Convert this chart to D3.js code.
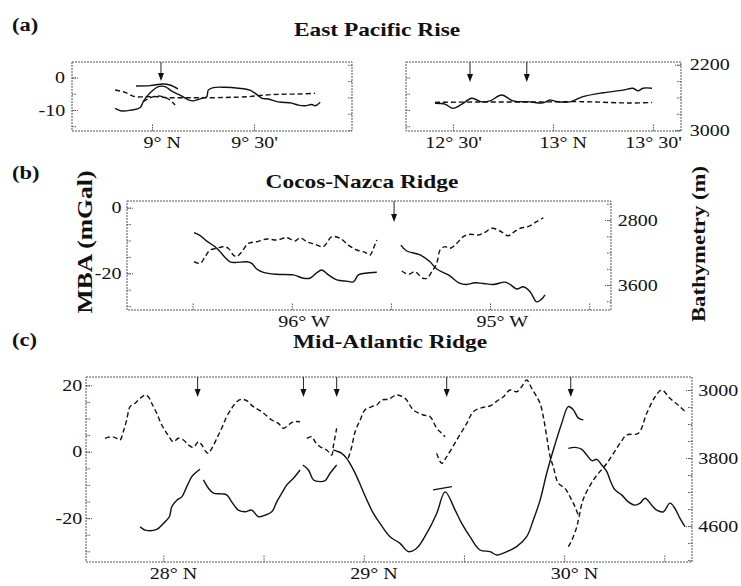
<!DOCTYPE html>
<html>
<head>
<meta charset="utf-8"/>
<title>MBA and bathymetry along ridge axes</title>
<script src="https://d3js.org/d3.v7.min.js"></script>
<style>
    body { margin: 0; background: #fff; }
    svg { display: block; }
    .frame { fill: none; stroke: #555; stroke-width: 1; stroke-dasharray: 2,1; }
    .axis line { stroke: #555; stroke-width: 1; stroke-dasharray: 1.5,1; }
    .axis text { font-family: "Liberation Serif", "Times New Roman", serif; font-size: 16px; fill: #111; }
    .mba { fill: none; stroke: #111; stroke-width: 1.4; }
    .bathy { fill: none; stroke: #111; stroke-width: 1.4; stroke-dasharray: 5,3; }
    .arrow { stroke: #222; stroke-width: 1; }
    .big { font-family: "Liberation Serif", "Times New Roman", serif; font-weight: bold; fill: #111; }
</style>
</head>
<body>
<div id="chart"></div>
<script>
// ---- data: [position (deg), MBA (mGal)] and [position (deg), depth (m)] ----
// (a) East Pacific Rise, 9-10 N
var aLeftMba = [[8.819,-9.5],[8.851,-10.3],[8.900,-10.0],[8.941,-9.3],[8.957,-7.5],[8.974,-5.9],[8.999,-4.2],[9.031,-2.8],[9.064,-2.8],[9.097,-4.2],[9.137,-5.4],[9.178,-6.9],[9.202,-7.2],[9.244,-6.4],[9.268,-5.9],[9.276,-3.9],[9.300,-3.1],[9.358,-3.0],[9.423,-3.3],[9.480,-3.9],[9.513,-5.2],[9.538,-6.4],[9.570,-6.6],[9.619,-7.5],[9.685,-7.9],[9.717,-8.5],[9.750,-8.7],[9.783,-8.3],[9.799,-8.7],[9.824,-7.6]];
var aLeftMbaShort = [[8.922,-2.6],[8.990,-2.5],[9.054,-2.0],[9.088,-2.3],[9.127,-3.5]];
var aLeftBathy = [[8.819,2509],[8.868,2537],[8.917,2591],[8.966,2591],[9.029,2591],[9.078,2603],[9.146,2603],[9.225,2603],[9.309,2603],[9.391,2598],[9.471,2591],[9.554,2570],[9.636,2561],[9.717,2558],[9.799,2549]];
var aLeftBathyShort = [[8.956,2652],[8.990,2607],[9.023,2582],[9.054,2591],[9.088,2631],[9.113,2692]];
// (a) East Pacific Rise, 12-13.5 N
var aRightMba = [[12.41,-7.9],[12.46,-8.2],[12.50,-9.5],[12.545,-8.2],[12.594,-6.4],[12.644,-7.5],[12.685,-7.2],[12.744,-5.4],[12.80,-7.2],[12.885,-7.5],[12.95,-7.8],[12.985,-6.9],[13.015,-7.4],[13.085,-7.5],[13.15,-5.9],[13.25,-4.7],[13.35,-3.9],[13.40,-3.3],[13.425,-4.1],[13.45,-3.3],[13.495,-3.3]];
var aRightBathy = [[12.41,2660],[12.635,2656],[12.885,2656],[13.15,2652],[13.285,2662],[13.385,2668],[13.495,2662]];
// (b) Cocos-Nazca Ridge (west longitude as negative)
var bMba1 = [[-96.493,-7.6],[-96.462,-8.5],[-96.429,-10.2],[-96.387,-11.9],[-96.362,-13.4],[-96.336,-15.2],[-96.311,-16.5],[-96.286,-16.7],[-96.227,-16.5],[-96.202,-17.0],[-96.177,-18.7],[-96.143,-19.7],[-96.076,-20.3],[-95.992,-20.5],[-95.941,-21.5],[-95.908,-21.5],[-95.883,-20.3],[-95.849,-19.0],[-95.815,-20.5],[-95.773,-22.0],[-95.723,-22.4],[-95.689,-22.6],[-95.664,-20.5],[-95.630,-20.0],[-95.571,-19.7]];
var bMba2 = [[-95.450,-11.4],[-95.420,-13.2],[-95.353,-14.4],[-95.303,-16.5],[-95.269,-18.7],[-95.210,-20.5],[-95.151,-23.1],[-95.118,-23.4],[-95.076,-22.9],[-95.034,-23.1],[-94.983,-23.4],[-94.924,-22.7],[-94.899,-23.4],[-94.865,-24.8],[-94.832,-24.1],[-94.798,-25.6],[-94.765,-28.7],[-94.739,-27.8],[-94.723,-26.6]];
var bBathy1 = [[-96.493,3313],[-96.462,3333],[-96.437,3251],[-96.412,3169],[-96.378,3148],[-96.345,3128],[-96.320,3148],[-96.295,3231],[-96.278,3251],[-96.252,3190],[-96.219,3087],[-96.177,3067],[-96.126,3034],[-96.076,3046],[-96.025,3018],[-95.983,3058],[-95.958,3018],[-95.924,3067],[-95.883,3099],[-95.841,3128],[-95.798,3005],[-95.756,3025],[-95.715,3108],[-95.672,3169],[-95.630,3197],[-95.605,3231],[-95.588,3148],[-95.571,3046]];
var bBathy2 = [[-95.445,3427],[-95.412,3468],[-95.378,3436],[-95.344,3510],[-95.319,3517],[-95.294,3436],[-95.269,3333],[-95.252,3169],[-95.227,3128],[-95.202,3148],[-95.168,3087],[-95.135,3005],[-95.101,2976],[-95.059,2985],[-95.025,2951],[-94.991,2902],[-94.950,2935],[-94.908,2993],[-94.882,2951],[-94.849,2902],[-94.808,2882],[-94.765,2821],[-94.731,2772]];
// (c) Mid-Atlantic Ridge
var cMba1 = [[27.884,-22.6],[27.909,-23.6],[27.967,-23.4],[28.000,-21.6],[28.030,-19.6],[28.042,-16.6],[28.067,-14.6],[28.092,-13.6],[28.117,-10.5],[28.142,-7.5],[28.158,-6.5],[28.183,-5.3]];
var cMba2 = [[28.200,-8.5],[28.225,-11.0],[28.250,-12.5],[28.291,-12.7],[28.316,-13.0],[28.341,-15.1],[28.374,-17.6],[28.408,-18.1],[28.441,-17.6],[28.474,-19.6],[28.508,-19.1],[28.541,-18.1],[28.566,-15.1],[28.591,-12.5],[28.616,-10.0],[28.649,-8.0],[28.682,-5.5]];
var cMba3 = [[28.696,-4.0],[28.724,-5.5],[28.749,-8.5],[28.782,-9.0],[28.807,-8.7],[28.832,-6.5],[28.865,-4.0]];
var cMba4 = [[28.848,0.5],[28.890,-0.5],[28.915,-2.0],[28.940,-4.5],[28.965,-7.5],[28.990,-11.0],[29.023,-15.5],[29.048,-18.6],[29.081,-21.6],[29.131,-25.6],[29.181,-27.6],[29.223,-30.1],[29.264,-29.1],[29.314,-24.6],[29.364,-18.6],[29.406,-12.1],[29.456,-17.6],[29.489,-21.6],[29.530,-25.6],[29.580,-29.6],[29.630,-30.1],[29.664,-31.1],[29.714,-30.1],[29.763,-28.6],[29.813,-25.6],[29.846,-20.6],[29.880,-14.6],[29.913,-6.5],[29.946,0.5],[29.988,8.6],[30.021,13.6],[30.046,12.6],[30.071,10.1],[30.096,9.6]];
var cMbaCross = [[29.346,-11.5],[29.440,-10.5]];
var cMba5 = [[30.021,1.0],[30.054,1.3],[30.088,0.7],[30.113,-1.0],[30.138,-2.7],[30.163,-2.3],[30.188,-4.0],[30.213,-6.0],[30.229,-8.5],[30.254,-11.5],[30.287,-13.0],[30.320,-15.1],[30.354,-16.1],[30.379,-15.5],[30.404,-14.0],[30.437,-16.1],[30.462,-17.6],[30.495,-18.1],[30.528,-15.5],[30.553,-17.1],[30.578,-20.1],[30.603,-22.6]];
var cBathy1 = [[27.709,3568],[27.743,3549],[27.767,3568],[27.784,3588],[27.800,3490],[27.817,3353],[27.834,3196],[27.859,3156],[27.884,3098],[27.909,3059],[27.925,3079],[27.942,3156],[27.967,3274],[27.992,3412],[28.017,3509],[28.050,3608],[28.075,3568],[28.100,3588],[28.125,3647],[28.150,3674],[28.175,3608],[28.192,3647],[28.213,3726],[28.225,3744],[28.242,3686],[28.267,3568],[28.291,3450],[28.316,3314],[28.341,3215],[28.366,3138],[28.391,3109],[28.416,3126],[28.449,3196],[28.491,3255],[28.541,3353],[28.574,3392],[28.599,3450],[28.624,3412],[28.649,3373],[28.682,3373]];
var cBathy2 = [[28.716,3568],[28.741,3549],[28.757,3608],[28.782,3667],[28.815,3706],[28.840,3765],[28.848,3667],[28.857,3549],[28.865,3450]];
var cBathy3 = [[28.923,3803],[28.940,3667],[28.957,3490],[28.982,3353],[29.006,3235],[29.040,3196],[29.065,3176],[29.090,3118],[29.123,3109],[29.165,3059],[29.206,3098],[29.248,3235],[29.297,3294],[29.331,3314],[29.364,3450],[29.389,3509],[29.406,3549]];
var cBathy4 = [[29.364,3745],[29.389,3862],[29.414,3784],[29.464,3588],[29.514,3392],[29.547,3255],[29.597,3203],[29.630,3188],[29.672,3118],[29.697,3079],[29.730,3000],[29.763,3020],[29.788,2961],[29.813,2882],[29.838,2980],[29.863,3079],[29.880,3156],[29.896,3314],[29.913,3549],[29.930,3784],[29.946,3902],[29.971,4097],[30.004,4156],[30.029,4255],[30.054,4372],[30.071,4470],[30.079,4494]];
var cBathy5 = [[30.021,4843],[30.039,4764],[30.063,4611],[30.074,4494],[30.094,4294],[30.146,4058],[30.213,3862],[30.279,3627],[30.312,3529],[30.370,3509],[30.412,3274],[30.454,3079],[30.487,3000],[30.528,3098],[30.578,3196],[30.612,3274]];

// arrow (segment end) positions
var aLeftArrows = [9.044];
var aRightArrows = [12.585, 12.869];
var bArrows = [-95.484];
var cArrows = [28.171, 28.699, 28.865, 29.414, 30.033];

// tick values and labels
var aLeftXTicks = [9, 9.5], aLeftXLabels = ["9° N", "9° 30'"];
var aRightXTicks = [12.5, 13, 13.5], aRightXLabels = ["12° 30'", "13° N", "13° 30'"];
var bXTicks = [-96.5, -96, -95.5, -95, -94.5], bXLabels = ["", "96° W", "", "95° W", ""];
var cXTicks = [28, 28.5, 29, 29.5, 30, 30.5], cXLabels = ["28° N", "", "29° N", "", "30° N", ""];
var aMbaTicks = [0, -10], aMbaMinor = [0, -5, -10, -15];
var bMbaTicks = [0, -20], bMbaMinor = [0, -5, -10, -15, -20, -25, -30];
var cMbaTicks = [20, 0, -20], cMbaMinor = [20, 15, 10, 5, 0, -5, -10, -15, -20, -25, -30];
var aDepthTicks = [2200, 3000], aDepthMinor = [2200, 2400, 2600, 2800, 3000];
var bDepthTicks = [2800, 3600], bDepthMinor = [2600, 2800, 3000, 3200, 3400, 3600, 3800];
var cDepthTicks = [3000, 3800, 4600], cDepthMinor = [3000, 3200, 3400, 3600, 3800, 4000, 4200, 4400, 4600, 4800, 5000];

var panels = [
    {x: [72, 352], y: [131, 62], xDom: [8.608, 9.980], mDom: [-16.46, 4.77], dDom: [3011, 2166],
     xTicks: aLeftXTicks, xLabels: aLeftXLabels, mTicks: aMbaTicks, mMinor: aMbaMinor, mLab: true, mPad: 5.5,
     dTicks: aDepthTicks, dMinor: aDepthMinor, dLab: false, dPad: 6, arrows: aLeftArrows, arrowLen: 19,
     mba: [aLeftMba, aLeftMbaShort], bathy: [aLeftBathy, aLeftBathyShort]},
    {x: [406, 681], y: [131, 62], xDom: [12.265, 13.64], mDom: [-16.46, 4.77], dDom: [3011, 2166],
     xTicks: aRightXTicks, xLabels: aRightXLabels, mTicks: aMbaTicks, mMinor: aMbaMinor, mLab: false, mPad: 5,
     dTicks: aDepthTicks, dMinor: aDepthMinor, dLab: true, dPad: 7, arrows: aRightArrows, arrowLen: 20,
     mba: [aRightMba], bathy: [aRightBathy]},
    {x: [127, 611], y: [310, 201], xDom: [-96.831, -94.390], mDom: [-31.19, 2.04], dDom: [3907, 2566],
     xTicks: bXTicks, xLabels: bXLabels, mTicks: bMbaTicks, mMinor: bMbaMinor, mLab: true, mPad: 4.5,
     dTicks: bDepthTicks, dMinor: bDepthMinor, dLab: true, dPad: 5.5, arrows: bArrows, arrowLen: 21,
     mba: [bMba1, bMba2], bathy: [bBathy1, bBathy2]},
    {x: [86, 692], y: [562, 377], xDom: [27.614, 30.638], mDom: [-33.22, 22.5], dDom: [5023, 2847],
     xTicks: cXTicks, xLabels: cXLabels, mTicks: cMbaTicks, mMinor: cMbaMinor, mLab: true, mPad: 3,
     dTicks: cDepthTicks, dMinor: cDepthMinor, dLab: true, dPad: 5, arrows: cArrows, arrowLen: 20,
     mba: [cMba1, cMba2, cMba3, cMba4, cMbaCross, cMba5], bathy: [cBathy1, cBathy2, cBathy3, cBathy4, cBathy5]}
];

var SX = 1.25; // the scanned lettering is wider than Times

var svg = d3.select("#chart").append("svg")
    .attr("width", 741)
    .attr("height", 586);

function bigText(txt, x, y, size, anchor, sx, rot) {
    svg.append("g")
        .attr("transform", "translate(" + x + "," + y + ")" + (rot ? " rotate(" + rot + ")" : "") + " scale(" + sx + ",1)")
        .append("text")
        .attr("class", "big")
        .attr("font-size", size)
        .attr("text-anchor", anchor)
        .text(txt);
}

panels.forEach(function(p) {
    var x = d3.scaleLinear().domain(p.xDom).range(p.x);
    var yM = d3.scaleLinear().domain(p.mDom).range(p.y);
    var yD = d3.scaleLinear().domain(p.dDom).range(p.y);
    var g = svg.append("g");

    g.append("rect")
        .attr("class", "frame")
        .attr("x", p.x[0]).attr("y", p.y[1])
        .attr("width", p.x[1] - p.x[0])
        .attr("height", p.y[0] - p.y[1]);

    // bottom axis
    var bx = g.append("g")
        .attr("class", "axis")
        .attr("transform", "translate(0," + p.y[0] + ")")
        .call(d3.axisBottom(x).tickValues(p.xTicks)
            .tickFormat(function(d, i) { return p.xLabels[i]; })
            .tickSizeInner(-7).tickSizeOuter(0).tickPadding(6));
    bx.select(".domain").remove();
    bx.selectAll(".tick text").each(function(d, i) {
        var t = d3.select(this).attr("transform", "scale(" + SX + ",1)");
        var m = p.xLabels[i].match(/^(.*°)( [NW])$/);
        if (m) {
            t.text(null).attr("text-anchor", "start");
            var head = t.append("tspan").text(m[1]);
            t.append("tspan").text(m[2]);
            t.attr("x", -head.node().getComputedTextLength() / 2);
        }
    });

    // left (MBA) axis
    var lm = g.append("g").attr("class", "axis")
        .attr("transform", "translate(" + p.x[0] + ",0)")
        .call(d3.axisLeft(yM).tickValues(p.mMinor).tickFormat("").tickSizeInner(-4).tickSizeOuter(0));
    lm.select(".domain").remove();
    if (p.mLab) {
        var lmL = g.append("g").attr("class", "axis")
            .attr("transform", "translate(" + p.x[0] + ",0)")
            .call(d3.axisLeft(yM).tickValues(p.mTicks).tickFormat(function(d) { return String(d); })
                .tickSizeInner(-6).tickSizeOuter(0).tickPadding(p.mPad));
        lmL.select(".domain").remove();
        lmL.selectAll(".tick text").attr("transform", "scale(" + SX + ",1)");
    }

    // right (depth) axis
    var rd = g.append("g").attr("class", "axis")
        .attr("transform", "translate(" + p.x[1] + ",0)")
        .call(d3.axisRight(yD).tickValues(p.dMinor).tickFormat("").tickSizeInner(-4).tickSizeOuter(0));
    rd.select(".domain").remove();
    if (p.dLab) {
        var rdL = g.append("g").attr("class", "axis")
            .attr("transform", "translate(" + p.x[1] + ",0)")
            .call(d3.axisRight(yD).tickValues(p.dTicks).tickFormat(function(d) { return String(d); })
                .tickSizeInner(-6).tickSizeOuter(0).tickPadding(p.dPad));
        rdL.select(".domain").remove();
        rdL.selectAll(".tick text").attr("transform", "scale(" + SX + ",1)");
    }

    var lineM = d3.line().x(function(d) { return x(d[0]); }).y(function(d) { return yM(d[1]); })
        .curve(d3.curveCatmullRom.alpha(0.5));
    var lineD = d3.line().x(function(d) { return x(d[0]); }).y(function(d) { return yD(d[1]); })
        .curve(d3.curveCatmullRom.alpha(0.5));

    g.selectAll(".bathy").data(p.bathy).enter().append("path")
        .attr("class", "bathy").attr("d", lineD);
    g.selectAll(".mba").data(p.mba).enter().append("path")
        .attr("class", "mba").attr("d", lineM);

    // arrows marking segment ends
    var top = p.y[1], tip = p.y[1] + p.arrowLen;
    var ar = g.selectAll(".arr").data(p.arrows).enter().append("g").attr("class", "arr");
    ar.append("line").attr("class", "arrow")
        .attr("x1", function(d) { return x(d); }).attr("x2", function(d) { return x(d); })
        .attr("y1", top).attr("y2", tip - 5);
    ar.append("path")
        .attr("d", function(d) { var X = x(d); return "M" + (X - 3) + "," + (tip - 8) + "L" + (X + 3) + "," + (tip - 8) + "L" + X + "," + tip + "Z"; })
        .attr("fill", "#111");
});

// panel letters, titles, axis names
bigText("(a)", 12, 31, 18, "start", SX);
bigText("East Pacific Rise", 377, 36, 18, "middle", 1.3);
bigText("(b)", 12, 179, 18, "start", SX);
bigText("Cocos-Nazca Ridge", 362, 188, 18, "middle", 1.3);
bigText("(c)", 12, 346, 18, "start", SX);
bigText("Mid-Atlantic Ridge", 390, 348, 18, "middle", 1.3);
bigText("MBA (mGal)", 92, 242, 20, "middle", 1.28, -90);
bigText("Bathymetry (m)", 705, 244, 19, "middle", 1.2, -90);
</script>
</body>
</html>
